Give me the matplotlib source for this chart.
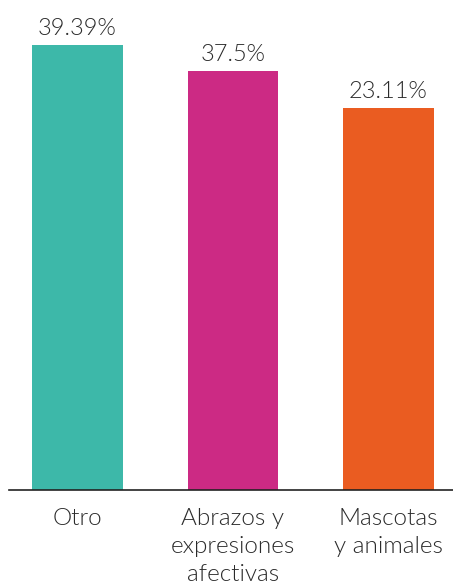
import matplotlib
matplotlib.use("Agg")
import matplotlib.pyplot as plt

categories = ["Otro", "Abrazos y\nexpresiones\nafectivas", "Mascotas\ny animales"]
values = [39.39, 37.5, 23.11]
# bar heights as drawn in the picture (same scale as the first bar)
drawn_heights = [39.39, 37.09, 33.81]
colors = ["#3db8a9", "#cc2a84", "#ea5c21"]
value_labels = ["39.39%", "37.5%", "23.11%"]

plt.rcParams["font.family"] = ["Lato", "DejaVu Sans"]

fig = plt.figure(figsize=(4.53, 5.88), dpi=100)
ax = fig.add_axes([9 / 453, 98 / 588, 444 / 453, 490 / 588])

x = range(len(categories))
bars = ax.bar(x, drawn_heights, width=0.585, color=colors)

for b, lab in zip(bars, value_labels):
    ax.annotate(lab, (b.get_x() + b.get_width() / 2, b.get_height()),
                xytext=(0, 4), textcoords="offset points",
                ha="center", va="bottom", fontsize=17, fontweight=300,
                color="#2b2b2b")

ax.set_xlim(-0.4405, 2.415)
ax.set_ylim(0, 43.36)
ax.set_xticks(list(x))
ax.set_xticklabels(categories, fontsize=17.5, fontweight=300, color="#2b2b2b",
                   linespacing=1.4, va="top")
ax.tick_params(axis="x", length=0, pad=13)
ax.set_yticks([])
for s in ["top", "right", "left"]:
    ax.spines[s].set_visible(False)
ax.spines["bottom"].set_color("#222222")
ax.spines["bottom"].set_linewidth(1.2)

fig.savefig("out.png", dpi=100)
